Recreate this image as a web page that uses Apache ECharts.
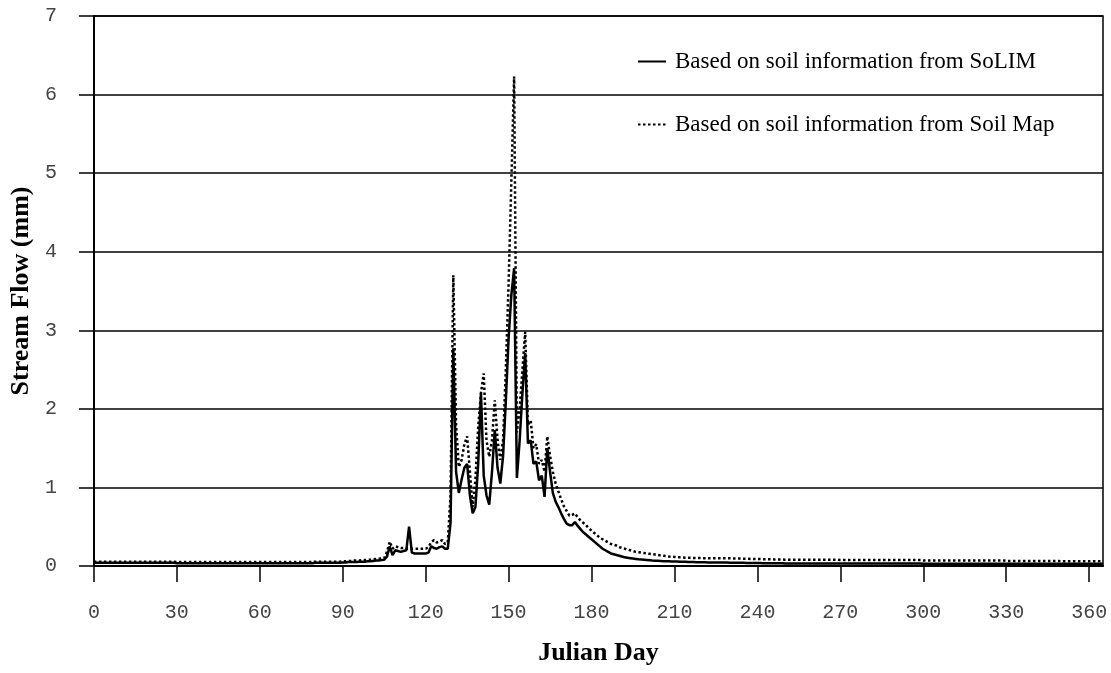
<!DOCTYPE html>
<html>
<head>
<meta charset="utf-8">
<script src="https://cdn.jsdelivr.net/npm/echarts@6/dist/echarts.min.js"></script>
<style>
html,body{margin:0;padding:0;background:#fff;}
#chart{width:1111px;height:673px;}
</style>
</head>
<body>
<div id="chart"></div>
<script>
// Daily stream flow (mm), Julian day 0..365
const seriesNames = ['Based on soil information from SoLIM', 'Based on soil information from Soil Map'];
const xTicks = [0, 30, 60, 90, 120, 150, 180, 210, 240, 270, 300, 330, 360];
const yTicks = [0, 1, 2, 3, 4, 5, 6, 7];

const solim = [
  0.04,0.04,0.04,0.04,0.04,0.04,0.04,0.04,0.04,0.04,
  0.04,0.04,0.04,0.04,0.04,0.04,0.04,0.04,0.04,0.04,
  0.04,0.04,0.04,0.04,0.04,0.04,0.04,0.04,0.04,0.04,
  0.035,0.035,0.035,0.035,0.035,0.035,0.035,0.035,0.035,0.035,
  0.035,0.035,0.035,0.035,0.035,0.035,0.035,0.035,0.035,0.035,
  0.035,0.035,0.035,0.035,0.035,0.035,0.035,0.035,0.035,0.035,
  0.035,0.035,0.035,0.035,0.035,0.035,0.035,0.035,0.035,0.035,
  0.035,0.035,0.035,0.035,0.035,0.035,0.035,0.035,0.035,0.035,
  0.04,0.04,0.04,0.04,0.04,0.04,0.04,0.04,0.04,0.04,
  0.045,0.045,0.05,0.05,0.05,0.05,0.055,0.055,0.055,0.06,
  0.06,0.065,0.07,0.07,0.075,0.08,0.12,0.25,0.14,0.2,
  0.19,0.18,0.19,0.2,0.5,0.17,0.16,0.16,0.16,0.16,
  0.16,0.17,0.25,0.23,0.22,0.24,0.25,0.22,0.22,0.55,
  2.77,1.2,0.93,1.1,1.25,1.3,0.9,0.67,0.75,1.3,
  2.2,1.15,0.9,0.78,1.2,1.73,1.25,1.05,1.4,2.1,
  2.9,3.45,3.79,1.12,1.6,2.2,2.71,1.56,1.6,1.3,
  1.33,1.09,1.15,0.88,1.5,1.2,0.93,0.82,0.75,0.67,
  0.6,0.54,0.52,0.52,0.56,0.51,0.47,0.43,0.4,0.37,
  0.34,0.31,0.28,0.25,0.22,0.2,0.18,0.16,0.15,0.14,
  0.13,0.12,0.11,0.105,0.1,0.095,0.09,0.085,0.082,0.079,
  0.076,0.073,0.07,0.068,0.066,0.064,0.062,0.06,0.059,0.058,
  0.057,0.056,0.055,0.054,0.053,0.052,0.051,0.05,0.049,0.048,
  0.047,0.047,0.046,0.046,0.045,0.045,0.044,0.044,0.043,0.043,
  0.042,0.042,0.041,0.041,0.04,0.04,0.039,0.039,0.038,0.038,
  0.037,0.037,0.036,0.036,0.035,0.035,0.035,0.034,0.034,0.034,
  0.033,0.033,0.033,0.033,0.033,0.033,0.033,0.033,0.033,0.033,
  0.032,0.032,0.032,0.032,0.032,0.032,0.032,0.032,0.032,0.032,
  0.032,0.032,0.032,0.032,0.032,0.032,0.032,0.032,0.032,0.032,
  0.032,0.032,0.032,0.032,0.032,0.032,0.032,0.032,0.032,0.032,
  0.032,0.032,0.032,0.032,0.032,0.032,0.032,0.032,0.032,0.032,
  0.03,0.03,0.03,0.03,0.03,0.03,0.03,0.03,0.03,0.03,
  0.03,0.03,0.03,0.03,0.03,0.03,0.03,0.03,0.03,0.03,
  0.03,0.03,0.03,0.03,0.03,0.03,0.03,0.03,0.03,0.03,
  0.03,0.03,0.03,0.03,0.03,0.03,0.03,0.03,0.03,0.03,
  0.03,0.03,0.03,0.03,0.03,0.03,0.03,0.03,0.03,0.03,
  0.03,0.03,0.03,0.03,0.03,0.03,0.03,0.03,0.03,0.03,
  0.03,0.03,0.03,0.03,0.03,0.03
];

const soilMap = [
  0.055,0.055,0.055,0.055,0.055,0.055,0.055,0.055,0.055,0.055,
  0.055,0.055,0.055,0.055,0.055,0.055,0.055,0.055,0.055,0.055,
  0.055,0.055,0.055,0.055,0.055,0.055,0.055,0.055,0.055,0.055,
  0.05,0.05,0.05,0.05,0.05,0.05,0.05,0.05,0.05,0.05,
  0.05,0.05,0.05,0.05,0.05,0.05,0.05,0.05,0.05,0.05,
  0.05,0.05,0.05,0.05,0.05,0.05,0.05,0.05,0.05,0.05,
  0.05,0.05,0.05,0.05,0.05,0.05,0.05,0.05,0.05,0.05,
  0.05,0.05,0.05,0.05,0.05,0.05,0.05,0.05,0.05,0.05,
  0.055,0.055,0.055,0.055,0.055,0.055,0.055,0.055,0.055,0.055,
  0.06,0.06,0.065,0.065,0.07,0.07,0.07,0.075,0.075,0.08,
  0.08,0.085,0.09,0.09,0.1,0.1,0.18,0.31,0.22,0.25,
  0.24,0.23,0.23,0.22,0.22,0.22,0.22,0.22,0.22,0.22,
  0.22,0.24,0.3,0.33,0.3,0.31,0.33,0.28,0.3,0.9,
  3.7,1.8,1.26,1.35,1.55,1.65,1.2,0.75,1.1,1.77,
  2.2,2.45,1.6,1.39,1.6,2.11,1.6,1.35,1.6,2.5,
  3.6,4.9,6.23,1.7,2.0,2.5,2.98,1.8,1.85,1.5,
  1.55,1.3,1.35,1.2,1.65,1.4,1.2,1.05,0.95,0.85,
  0.76,0.7,0.64,0.65,0.67,0.62,0.58,0.55,0.52,0.48,
  0.45,0.42,0.39,0.36,0.34,0.32,0.3,0.28,0.27,0.26,
  0.24,0.23,0.22,0.21,0.2,0.19,0.18,0.175,0.17,0.165,
  0.16,0.155,0.15,0.145,0.14,0.135,0.13,0.125,0.12,0.118,
  0.115,0.112,0.11,0.108,0.106,0.105,0.104,0.103,0.102,0.101,
  0.1,0.1,0.1,0.1,0.1,0.1,0.1,0.1,0.1,0.1,
  0.098,0.097,0.096,0.095,0.094,0.093,0.092,0.091,0.09,0.09,
  0.089,0.088,0.087,0.086,0.085,0.085,0.084,0.083,0.082,0.082,
  0.08,0.08,0.08,0.08,0.08,0.08,0.08,0.08,0.08,0.08,
  0.08,0.08,0.08,0.08,0.08,0.08,0.08,0.08,0.08,0.08,
  0.075,0.075,0.075,0.075,0.075,0.075,0.075,0.075,0.075,0.075,
  0.075,0.075,0.075,0.075,0.075,0.075,0.075,0.075,0.075,0.075,
  0.075,0.075,0.075,0.075,0.075,0.075,0.075,0.075,0.075,0.075,
  0.07,0.07,0.07,0.07,0.07,0.07,0.07,0.07,0.07,0.07,
  0.07,0.07,0.07,0.07,0.07,0.07,0.07,0.07,0.07,0.07,
  0.07,0.07,0.07,0.07,0.07,0.07,0.07,0.07,0.07,0.07,
  0.065,0.065,0.065,0.065,0.065,0.065,0.065,0.065,0.065,0.065,
  0.065,0.065,0.065,0.065,0.065,0.065,0.065,0.065,0.065,0.065,
  0.06,0.06,0.06,0.06,0.06,0.06,0.06,0.06,0.06,0.06,
  0.06,0.06,0.06,0.06,0.06,0.06
];

const chart = echarts.init(document.getElementById('chart'), null, {renderer: 'canvas'});
const toPairs = arr => arr.map((v, i) => [i, v]);

chart.setOption({
  animation: false,
  backgroundColor: '#ffffff',
  grid: {
    left: 92, right: 8, top: 16, bottom: 107,
    show: true, borderColor: '#000', borderWidth: 1.5, backgroundColor: 'transparent'
  },
  legend: {
    orient: 'vertical',
    left: 637, top: 50,
    itemWidth: 28, itemHeight: 14, itemGap: 40,
    padding: 0,
    itemStyle: {opacity: 0},
    textStyle: {fontFamily: 'Liberation Serif', fontSize: 23, color: '#000', padding: [0, 0, 0, 4]},
    data: seriesNames
  },
  xAxis: {
    type: 'value', min: 0, max: 365, interval: 30,
    name: 'Julian Day', nameLocation: 'middle', nameGap: 74,
    nameTextStyle: {fontFamily: 'Liberation Serif', fontWeight: 'bold', fontSize: 26, color: '#000'},
    axisLine: {show: true, onZero: false, lineStyle: {color: '#000', width: 2}},
    axisTick: {show: true, length: 16, lineStyle: {color: '#000', width: 1.5},
               customValues: xTicks},
    axisLabel: {fontFamily: 'Liberation Mono', fontSize: 20, color: '#444', margin: 37,
                customValues: xTicks},
    splitLine: {show: false}
  },
  yAxis: {
    type: 'value', min: 0, max: 7, interval: 1,
    name: 'Stream Flow (mm)', nameLocation: 'middle', nameGap: 54, nameRotate: 90,
    nameTextStyle: {fontFamily: 'Liberation Serif', fontWeight: 'bold', fontSize: 26, color: '#000'},
    axisLine: {show: true, lineStyle: {color: '#000', width: 2}},
    axisTick: {show: true, length: 15, lineStyle: {color: '#000', width: 1.5}},
    axisLabel: {fontFamily: 'Liberation Mono', fontSize: 20, color: '#444', margin: 37,
                formatter: v => yTicks.includes(v) ? String(v) : ''},
    splitLine: {show: true, lineStyle: {color: '#000', width: 1.5}}
  },
  series: [
    {
      name: seriesNames[0], type: 'line', data: toPairs(solim),
      showSymbol: false, symbol: 'none',
      lineStyle: {color: '#000', width: 2.5, type: 'solid'},
      itemStyle: {color: '#000'}
    },
    {
      name: seriesNames[1], type: 'line', data: toPairs(soilMap),
      showSymbol: false, symbol: 'none',
      lineStyle: {color: '#000', width: 2.5, type: [2.5, 2.5]},
      itemStyle: {color: '#000'}
    }
  ]
});
</script>
</body>
</html>
